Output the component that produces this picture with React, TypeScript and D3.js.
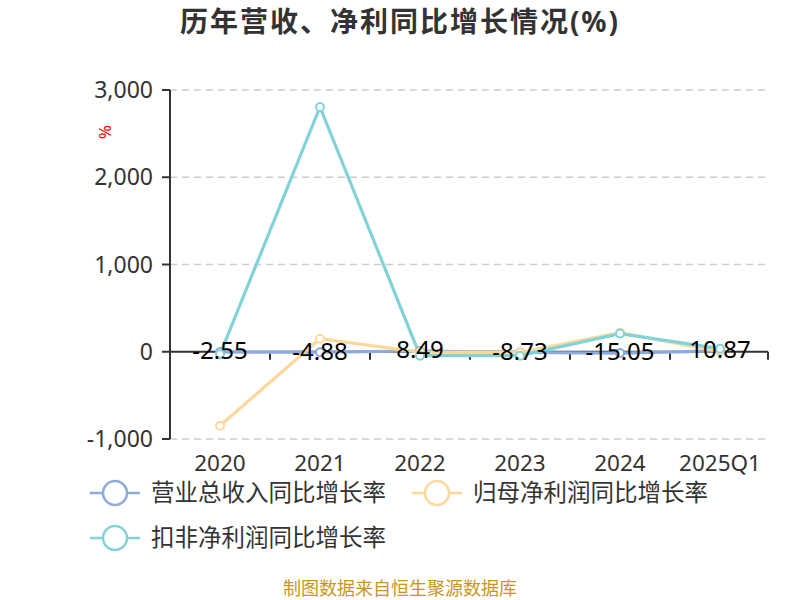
import React from 'react';
import * as d3 from 'd3';

const categories = ['2020', '2021', '2022', '2023', '2024', '2025Q1'];
const revenueGrowth = [-2.55, -4.88, 8.49, -8.73, -15.05, 10.87];
const netProfitGrowth = [-848, 149, -5, -10, 218, 5];
const deductedProfitGrowth = [-30, 2806, -45, -45, 208, 35];
const yTicks = [-1000, 0, 1000, 2000, 3000];

const seriesNames = ['营业总收入同比增长率', '归母净利润同比增长率', '扣非净利润同比增长率'];
const seriesColors = ['#8eaadb', '#fdd89b', '#82d3d8'];

const font = '"Noto Sans", "Noto Sans CJK SC", sans-serif';

export default function App() {
    const width = 800;
    const height = 600;
    const left = 170;
    const right = 770;

    const x = d3.scaleBand<string>().domain(categories).range([left, right]);
    const y = d3.scaleLinear().domain([-1000, 3000]).range([439, 90]);

    const cx = (c: string) => (x(c) as number) + x.bandwidth() / 2;

    const line = d3
        .line<number>()
        .x((_, i) => cx(categories[i]))
        .y((d) => y(d));

    const allSeries = [revenueGrowth, netProfitGrowth, deductedProfitGrowth];

    // legend layout: two on first row, one on second
    const legendPos = [
        [90, 493],
        [412, 493],
        [90, 538],
    ];

    return (
        <svg width={width} height={height} style={{ position: 'absolute', left: 0, top: 0 }} fontFamily={font}>
            <text x={400} y={22} dy="0.35em" textAnchor="middle" fontSize={28} letterSpacing={2} fontWeight="bold" fill="#333">
                历年营收、净利同比增长情况(%)
            </text>

            {/* grid */}
            {yTicks
                .filter((t) => t !== 0)
                .map((t) => (
                    <line key={t} x1={left} x2={768} y1={y(t)} y2={y(t)} stroke="#ccc" strokeDasharray="7,5" strokeWidth={1.5} />
                ))}

            {/* y axis */}
            <line x1={left} x2={left} y1={y(3000)} y2={y(-1000)} stroke="#333" strokeWidth={2} />
            {yTicks.map((t) => (
                <g key={t}>
                    <line x1={left - 8} x2={left} y1={y(t)} y2={y(t)} stroke="#333" strokeWidth={2} />
                    <text x={left - 17} y={y(t)} dy="0.35em" textAnchor="end" fontSize={23} fill="#333">
                        {d3.format(',')(t).replace('−', '-')}
                    </text>
                </g>
            ))}
            <text transform={`translate(105,132) rotate(90)`} textAnchor="middle" dy="0.35em" fontSize={17} fill="red">
                %
            </text>

            {/* x axis at zero */}
            <line x1={left} x2={768} y1={y(0)} y2={y(0)} stroke="#333" strokeWidth={2} />
            {categories.map((c, i) => (
                <line
                    key={c}
                    x1={(x(c) as number) + x.bandwidth()}
                    x2={(x(c) as number) + x.bandwidth()}
                    y1={y(0)}
                    y2={y(0) + 8}
                    stroke="#333"
                    strokeWidth={2}
                    transform={i === categories.length - 1 ? 'translate(-2,0)' : undefined}
                />
            ))}
            {categories.map((c) => (
                <text key={c} x={cx(c)} y={463} dy="0.35em" textAnchor="middle" fontSize={22.5} fill="#333">
                    {c}
                </text>
            ))}

            {/* lines */}
            {allSeries.map((s, k) => (
                <path key={k} d={line(s) as string} fill="none" stroke={seriesColors[k]} strokeWidth={3.2} />
            ))}
            {allSeries.map((s, k) =>
                s.map((v, i) => (
                    <circle key={`${k}-${i}`} cx={cx(categories[i])} cy={y(v)} r={4} fill="#fff" stroke={seriesColors[k]} strokeWidth={2} />
                ))
            )}

            {/* value labels */}
            {revenueGrowth.map((v, i) => (
                <text key={i} x={cx(categories[i])} y={y(v) - 1} dy="0.35em" textAnchor="middle" fontSize={24} fill="#000">
                    {v.toFixed(2)}
                </text>
            ))}

            {/* legend */}
            {seriesNames.map((name, k) => {
                const [lx, ly] = legendPos[k];
                return (
                    <g key={name}>
                        <line x1={lx} x2={lx + 50} y1={ly} y2={ly} stroke={seriesColors[k]} strokeWidth={2.5} />
                        <circle cx={lx + 25} cy={ly} r={12} fill="#fff" stroke={seriesColors[k]} strokeWidth={2.5} />
                        <text x={lx + 61} y={ly} dy="0.35em" fontSize={23.5} fill="#333">
                            {name}
                        </text>
                    </g>
                );
            })}

            <text x={400} y={589} dy="0.35em" textAnchor="middle" fontSize={18} fill="#c8961e">
                制图数据来自恒生聚源数据库
            </text>
        </svg>
    );
}
